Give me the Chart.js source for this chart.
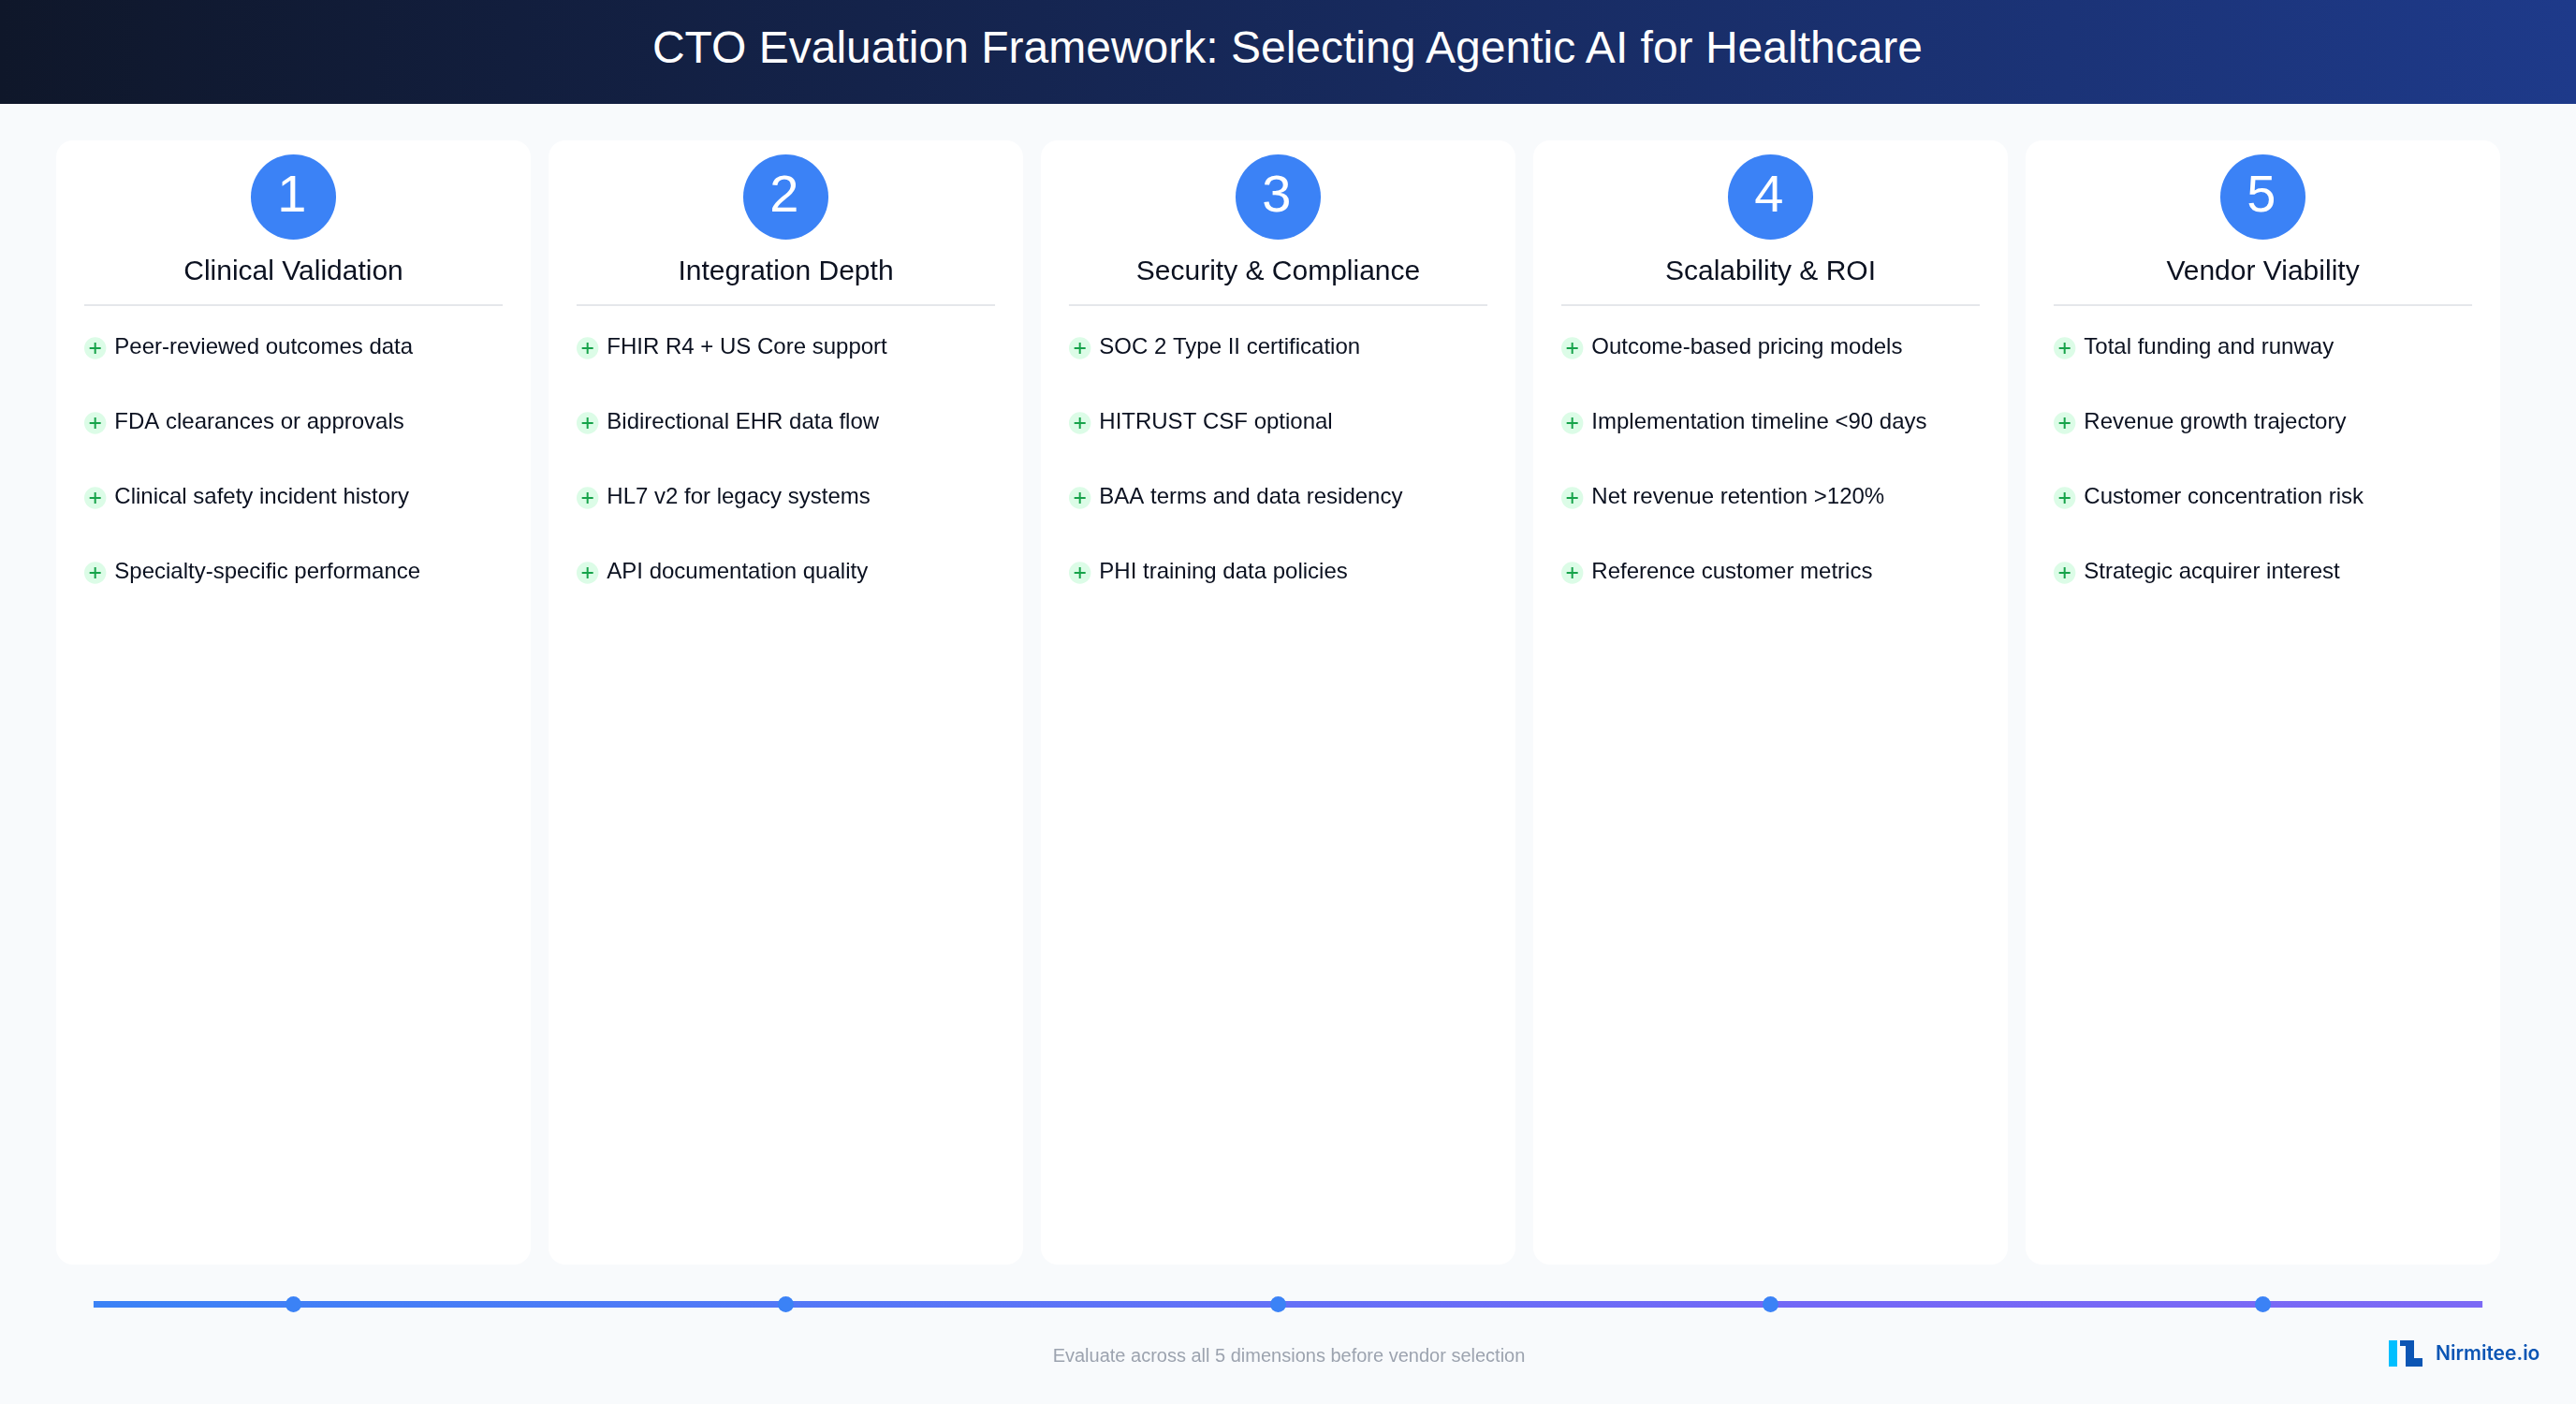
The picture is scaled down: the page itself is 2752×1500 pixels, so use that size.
<!DOCTYPE html>
<html>
<head>
<meta charset="utf-8">
<script src="https://cdn.jsdelivr.net/npm/chart.js@4/dist/chart.umd.min.js"></script>
<style>
html, body { margin: 0; width: 2752px; height: 1500px; overflow: hidden; background: #f8fafc; font-family: "Liberation Sans", sans-serif; }
#header { position: absolute; left: 0; top: 0; width: 2752px; height: 111px; background: linear-gradient(90deg, #0f172a, #1e3a8a); }
#header h1 { margin: 0; font-size: 48px; font-weight: 400; line-height: 102px; color: #fff; text-align: center; margin-left: -1px; }
#chart { position: absolute; left: 0; top: 111px; }
#caption { position: absolute; left: 1px; width: 2752px; top: 1436px; text-align: center; font-size: 20px; line-height: 24px; color: #9ca3af; }
#logo { position: absolute; left: 2552px; top: 1432px; }
#brand { position: absolute; left: 2602px; top: 1432px; font: 600 21px/28px Inter, sans-serif; color: #0b55b4; }
</style>
</head>
<body>
<div id="header"><h1>CTO Evaluation Framework: Selecting Agentic AI for Healthcare</h1></div>
<canvas id="chart" width="2752" height="1389"></canvas>
<div id="caption">Evaluate across all 5 dimensions before vendor selection</div>
<svg id="logo" width="36" height="28" viewBox="0 0 36 28">
  <rect x="0" y="0" width="9" height="28" fill="#00bfff"/>
  <path d="M12 0H27V19H36V28H18V6H12Z" fill="#0b55b4"/>
</svg>
<div id="brand">Nirmitee.io</div>
<script>
const dimensions = ['Clinical Validation', 'Integration Depth', 'Security & Compliance', 'Scalability & ROI', 'Vendor Viability'];
const steps = ['1', '2', '3', '4', '5'];
const clinicalItems = ['Peer-reviewed outcomes data', 'FDA clearances or approvals', 'Clinical safety incident history', 'Specialty-specific performance'];
const integrationItems = ['FHIR R4 + US Core support', 'Bidirectional EHR data flow', 'HL7 v2 for legacy systems', 'API documentation quality'];
const securityItems = ['SOC 2 Type II certification', 'HITRUST CSF optional', 'BAA terms and data residency', 'PHI training data policies'];
const scalabilityItems = ['Outcome-based pricing models', 'Implementation timeline <90 days', 'Net revenue retention >120%', 'Reference customer metrics'];
const vendorItems = ['Total funding and runway', 'Revenue growth trajectory', 'Customer concentration risk', 'Strategic acquirer interest'];
const itemLists = [clinicalItems, integrationItems, securityItems, scalabilityItems, vendorItems];

// layout on the axes: x is the column number, y is the checklist row
const cardTop = -1.775, cardBottom = 13.2375;
const badgeRow = -1.02, badgeTextRow = -0.825, titleRow = 0.0875, ruleRow = 0.425, railRow = 13.77;
const ruleHalf = 0.425, bulletOffset = -0.4027, itemOffset = -0.3635, badgeTextOffset = -0.003, itemBaseline = 0.075;
const railStart = 0.594, railEnd = 5.446;

const columns = dimensions.map((d, i) => i + 1);
const bullets = [];
itemLists.forEach((list, i) => list.forEach((item, r) => bullets.push({ x: columns[i] + bulletOffset, y: r + 1 })));

// labels drawn at the scale positions of each column
const labelPlugin = {
    id: 'labels',
    afterDatasetsDraw(chart) {
        const { ctx, scales: { x, y } } = chart;
        ctx.save();
        ctx.textBaseline = 'alphabetic';
        columns.forEach((col, i) => {
            ctx.textAlign = 'center';
            ctx.fillStyle = '#ffffff';
            ctx.font = '56px "Liberation Sans"';
            ctx.fillText(steps[i], x.getPixelForValue(col + badgeTextOffset), y.getPixelForValue(badgeTextRow));
            ctx.fillStyle = '#0b1120';
            ctx.font = '30px "Liberation Sans"';
            ctx.fillText(dimensions[i], x.getPixelForValue(col), y.getPixelForValue(titleRow));
            ctx.textAlign = 'left';
            ctx.font = '24px "Liberation Sans"';
            itemLists[i].forEach((item, r) => {
                ctx.fillText(item, x.getPixelForValue(col + itemOffset), y.getPixelForValue(r + 1 + itemBaseline));
            });
        });
        ctx.restore();
    }
};

function railGradient(c) {
    const area = c.chart.chartArea;
    if (!area) return '#3b82f6';
    const x = c.chart.scales.x;
    const g = c.chart.ctx.createLinearGradient(x.getPixelForValue(railStart), 0, x.getPixelForValue(railEnd), 0);
    g.addColorStop(0, '#3b82f6');
    g.addColorStop(0.5, '#6470f7');
    g.addColorStop(0.72, '#7367f6');
    g.addColorStop(1, '#7c69f5');
    return g;
}

const ruleSets = columns.map(col => ({
    type: 'line',
    data: [{ x: col - ruleHalf, y: ruleRow }, { x: col + ruleHalf, y: ruleRow }],
    borderColor: '#e5e7eb',
    borderWidth: 2,
    pointRadius: 0,
    order: 5
}));

new Chart(document.getElementById('chart'), {
    type: 'bar',
    plugins: [labelPlugin],
    data: {
        datasets: [
            {
                type: 'bar',
                data: columns.map(col => ({ x: col, y: [cardTop, cardBottom] })),
                backgroundColor: '#ffffff',
                borderRadius: 18,
                borderSkipped: false,
                inflateAmount: 0,
                barThickness: 507,
                order: 10
            },
            ...ruleSets,
            {
                type: 'scatter',
                data: columns.map(col => ({ x: col, y: badgeRow })),
                pointRadius: 45.5,
                pointBackgroundColor: '#3b82f6',
                pointBorderWidth: 0,
                order: 4
            },
            {
                type: 'scatter',
                data: bullets,
                pointRadius: 11.7,
                pointBackgroundColor: '#dcfce7',
                pointBorderWidth: 0,
                order: 3
            },
            {
                type: 'scatter',
                data: bullets,
                pointStyle: 'cross',
                pointRadius: 6,
                pointBorderColor: '#16a34a',
                pointBorderWidth: 2,
                order: 2
            },
            {
                type: 'line',
                data: [{ x: railStart, y: railRow }, { x: railEnd, y: railRow }],
                borderColor: railGradient,
                borderWidth: 7,
                borderCapStyle: 'butt',
                pointRadius: 0,
                order: 1
            },
            {
                type: 'scatter',
                data: columns.map(col => ({ x: col, y: railRow })),
                pointRadius: 8.5,
                pointBackgroundColor: '#3b82f6',
                pointBorderWidth: 0,
                order: 0
            }
        ]
    },
    options: {
        responsive: false,
        devicePixelRatio: 1,
        animation: false,
        events: [],
        layout: { autoPadding: false, padding: { left: 50.5, right: 71.5, top: 0, bottom: 0 } },
        plugins: { legend: { display: false }, tooltip: { enabled: false }, title: { display: false } },
        scales: {
            x: { type: 'linear', min: 0.5, max: 5.5, offset: false, display: false },
            y: { type: 'linear', min: -2.2625, max: 15.1, reverse: true, display: false }
        }
    }
});
</script>
</body>
</html>
